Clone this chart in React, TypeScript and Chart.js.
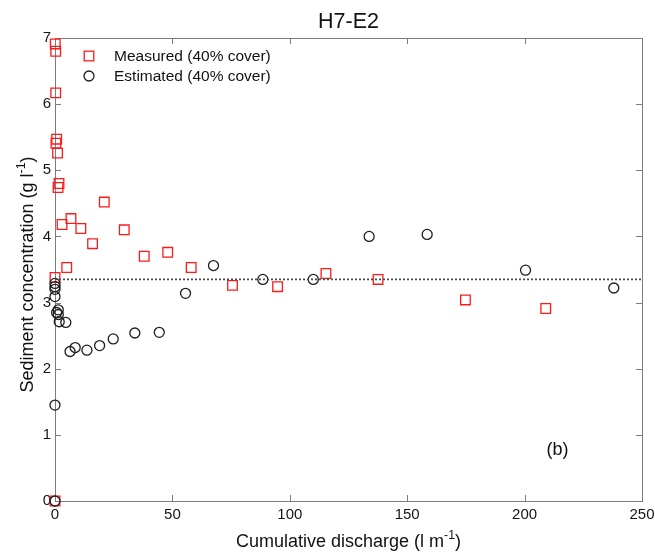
import React, { useEffect, useRef } from "react";
import { Chart, registerables } from "chart.js";

Chart.register(...registerables);

// Measured sediment concentration (red squares)
const measuredX = [0.1, 0.3, 0.3, 0.7, 0.4, 1.1, 1.7, 1.3, 0, 0, 3, 5, 6.8, 11, 16, 21, 29.5, 38, 48, 58, 75.6, 94.8, 115.4, 137.6, 174.8, 209];
const measuredY = [6.91, 6.8, 6.17, 5.47, 5.41, 5.26, 4.8, 4.74, 3.38, 0, 4.18, 3.53, 4.27, 4.12, 3.89, 4.52, 4.1, 3.7, 3.76, 3.53, 3.26, 3.24, 3.44, 3.35, 3.04, 2.91];

// Estimated sediment concentration (black circles)
const estimatedX = [0, 0, 0, 0, 0, 0, 0.7, 1.4, 1.4, 1.8, 4.6, 6.4, 8.6, 13.6, 19, 24.8, 34, 44.4, 55.6, 67.5, 88.5, 110, 133.8, 158.5, 200.4, 238];
const estimatedY = [0, 1.45, 3.09, 3.2, 3.24, 3.29, 2.85, 2.89, 2.82, 2.71, 2.7, 2.26, 2.32, 2.28, 2.35, 2.45, 2.54, 2.55, 3.14, 3.56, 3.35, 3.35, 4.0, 4.03, 3.49, 3.22];

// Mean concentration reference line
const meanLevel = 3.35;
const meanLineX = [0, 250];

const xTicks = [0, 50, 100, 150, 200, 250];
const yTicks = [0, 1, 2, 3, 4, 5, 6, 7];

const titleText = "H7-E2";
const legendLabels = ["Measured (40% cover)", "Estimated (40% cover)"];
const panelLabel = "(b)";
const panelPos = { x: 214, y: 0.77 };

const FONT = "'Liberation Sans', Arial, sans-serif";
const RED = "#ff1a1a";
const DARK = "#1e1e1e";
const FRAME = "#7c7c7c";

type Part = [string, boolean];

function drawSup(ctx: CanvasRenderingContext2D, parts: Part[], cx: number, cy: number, size: number) {
  const supSize = size * 0.68;
  let total = 0;
  const widths = parts.map(([t, sup]) => {
    ctx.font = `${sup ? supSize : size}px ${FONT}`;
    const w = ctx.measureText(t).width;
    total += w;
    return w;
  });
  let x = cx - total / 2;
  ctx.textAlign = "left";
  ctx.textBaseline = "alphabetic";
  parts.forEach(([t, sup], i) => {
    ctx.font = `${sup ? supSize : size}px ${FONT}`;
    ctx.fillText(t, x, sup ? cy - size * 0.42 : cy);
    x += widths[i];
  });
}

const decorPlugin = {
  id: "decor",
  beforeDatasetsDraw(chart: any) {
    const { ctx, chartArea: a, scales } = chart;
    const xs = scales.x;
    const ys = scales.y;
    ctx.save();
    ctx.strokeStyle = FRAME;
    ctx.lineWidth = 1;
    ctx.strokeRect(a.left + 0.5, a.top + 0.5, a.right - a.left, a.bottom - a.top);
    const tl = 6;
    ctx.beginPath();
    xTicks.forEach((v) => {
      const px = Math.round(xs.getPixelForValue(v)) + 0.5;
      ctx.moveTo(px, a.bottom);
      ctx.lineTo(px, a.bottom - tl);
      ctx.moveTo(px, a.top);
      ctx.lineTo(px, a.top + tl);
    });
    yTicks.forEach((v) => {
      const py = Math.round(ys.getPixelForValue(v)) + 0.5;
      ctx.moveTo(a.left, py);
      ctx.lineTo(a.left + tl, py);
      ctx.moveTo(a.right, py);
      ctx.lineTo(a.right - tl, py);
    });
    ctx.stroke();
    ctx.restore();
  },
  afterDraw(chart: any) {
    const { ctx, chartArea: a, scales } = chart;
    ctx.save();
    ctx.fillStyle = "#111";
    // title
    ctx.font = `21.5px ${FONT}`;
    ctx.textAlign = "center";
    ctx.textBaseline = "middle";
    ctx.fillText(titleText, (a.left + a.right) / 2, 22);

    // axis titles
    drawSup(ctx, [["Cumulative discharge (l m", false], ["-1", true], [")", false]], (a.left + a.right) / 2, 547, 18);
    ctx.save();
    ctx.translate(33, (a.top + a.bottom) / 2 + 5);
    ctx.rotate(-Math.PI / 2);
    drawSup(ctx, [["Sediment concentration (g l", false], ["-1", true], [")", false]], 0, 0, 18);
    ctx.restore();

    // legend
    const lx = 89;
    const ly = [56, 76];
    ctx.lineWidth = 1.3;
    ctx.strokeStyle = RED;
    ctx.strokeRect(lx - 4.8, ly[0] - 4.8, 9.6, 9.6);
    ctx.strokeStyle = DARK;
    ctx.beginPath();
    ctx.arc(lx, ly[1], 5, 0, Math.PI * 2);
    ctx.stroke();
    ctx.fillStyle = "#111";
    ctx.font = `15.5px ${FONT}`;
    ctx.textAlign = "left";
    ctx.textBaseline = "middle";
    ctx.fillText(legendLabels[0], 114, ly[0] + 1);
    ctx.fillText(legendLabels[1], 114, ly[1] + 1);

    // panel label
    ctx.font = `18px ${FONT}`;
    ctx.textAlign = "center";
    ctx.fillText(panelLabel, scales.x.getPixelForValue(panelPos.x), scales.y.getPixelForValue(panelPos.y));
    ctx.restore();
  },
};

export default function App() {
  const ref = useRef<HTMLCanvasElement | null>(null);

  useEffect(() => {
    const canvas = ref.current;
    if (!canvas) return;
    const measured = measuredX.map((x, i) => ({ x, y: measuredY[i] }));
    const estimated = estimatedX.map((x, i) => ({ x, y: estimatedY[i] }));
    const mean = meanLineX.map((x) => ({ x, y: meanLevel }));

    const chart = new Chart(canvas, {
      type: "scatter",
      data: {
        datasets: [
          {
            label: "Mean",
            data: mean,
            showLine: true,
            borderColor: "#4a4a4a",
            borderWidth: 1.6,
            borderDash: [2, 2],
            pointRadius: 0,
            clip: false,
          } as any,
          {
            label: legendLabels[1],
            data: estimated,
            pointStyle: "circle",
            pointRadius: 5,
            pointBorderWidth: 1.3,
            borderColor: DARK,
            backgroundColor: "rgba(0,0,0,0)",
            clip: false,
          } as any,
          {
            label: legendLabels[0],
            data: measured,
            pointStyle: "rect",
            pointRadius: 6.8,
            pointBorderWidth: 1.3,
            borderColor: RED,
            backgroundColor: "rgba(0,0,0,0)",
            clip: false,
          } as any,
        ],
      },
      options: {
        responsive: false,
        animation: false,
        devicePixelRatio: 1,
        layout: { padding: { left: 0, top: 38, right: 13, bottom: 0 } },
        plugins: {
          legend: { display: false },
          title: { display: false },
          tooltip: { enabled: false },
        },
        scales: {
          x: {
            type: "linear",
            min: 0,
            max: 250,
            afterFit: (s: any) => {
              s.height = 54;
              s.paddingLeft = 0;
              s.paddingRight = 0;
            },
            afterBuildTicks: (s: any) => {
              s.ticks = xTicks.map((v) => ({ value: v }));
            },
            grid: { display: false, drawTicks: false },
            border: { display: false },
            ticks: {
              color: "#151515",
              font: { family: FONT, size: 15 },
              padding: 5,
              maxRotation: 0,
            },
          },
          y: {
            type: "linear",
            min: 0,
            max: 7,
            afterFit: (s: any) => {
              s.width = 55;
              s.paddingTop = 0;
              s.paddingBottom = 0;
            },
            afterBuildTicks: (s: any) => {
              s.ticks = yTicks.map((v) => ({ value: v }));
            },
            grid: { display: false, drawTicks: false },
            border: { display: false },
            ticks: {
              color: "#151515",
              font: { family: FONT, size: 15 },
              padding: 4,
            },
          },
        },
      },
      plugins: [decorPlugin],
    });
    return () => chart.destroy();
  }, []);

  return (
    <div style={{ position: "fixed", left: 0, top: 0, width: 655, height: 555, background: "#fff" }}>
      <canvas ref={ref} width={655} height={555} style={{ display: "block", width: 655, height: 555 }} />
    </div>
  );
}
